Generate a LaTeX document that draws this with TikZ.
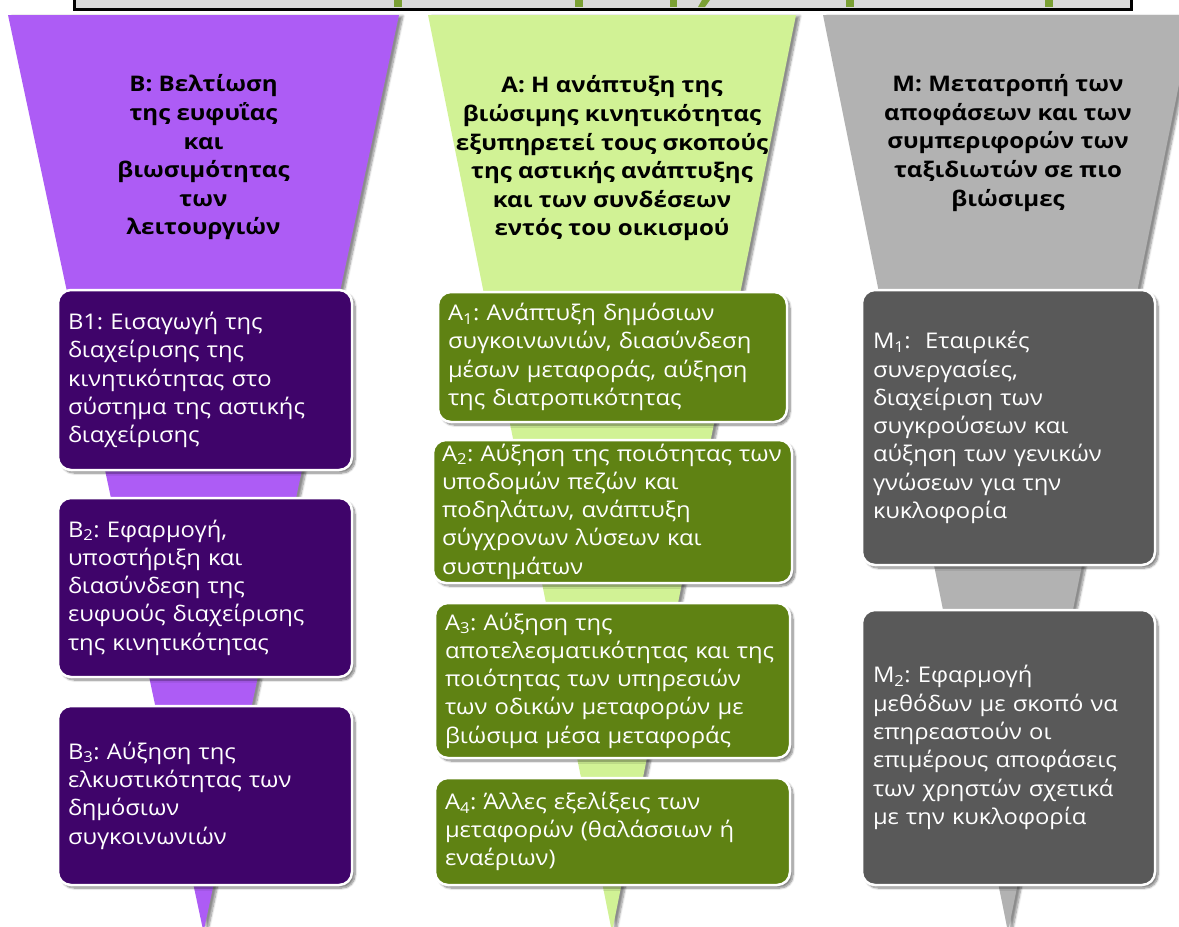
\documentclass[tikz,border=0pt]{standalone}
\usepackage{fontspec}
\setmainfont{Open Sans}[FakeStretch=1.1]
\newfontfamily\headfont{Open Sans}[FakeStretch=1.12]
\usetikzlibrary{shadows.blur}

\definecolor{violetfunnel}{RGB}{173,92,245}
\definecolor{violetbox}{RGB}{63,4,106}
\definecolor{greenfunnel}{RGB}{209,242,149}
\definecolor{greenbox}{RGB}{95,130,19}
\definecolor{greyfunnel}{RGB}{178,178,178}
\definecolor{greybox}{RGB}{89,89,89}
\definecolor{bannerfill}{RGB}{217,217,217}
\definecolor{bannerink}{RGB}{122,160,52}

\newcommand\lowidx[1]{\textsubscript{#1}}
\frenchspacing

\begin{document}
\begin{tikzpicture}[x=1pt,y=-1pt,
  funnel/.style={fill=#1,
    blur shadow={shadow xshift=4pt, shadow yshift=-1pt, shadow opacity=45, shadow blur steps=8}},
  heading/.style={align=center, inner sep=0pt, text=black,
    font=\headfont\bfseries\fontsize{21.5}{28.6}\selectfont},
  goalbox/.style={rectangle, rounded corners=13pt, draw=white, line width=2.5pt,
    fill=#1, text=white, align=left, inner sep=0pt,
    font=\fontsize{21.6}{28.3}\selectfont,
    blur shadow={shadow xshift=3pt, shadow yshift=-3pt, shadow opacity=50, shadow blur steps=8}},
  inkbar/.style={fill=bannerink, draw=none}
]
\useasboundingbox (0,0) rectangle (1179,927);
\clip (0,0) rectangle (1179,927);

% banner strip along the top edge
\draw[fill=bannerfill, draw=black, line width=3pt] (74.5,-20) rectangle (1131.5,9.5);
\fill[inkbar] (394,0) rectangle (401.5,7);
\fill[inkbar] (575,0) rectangle (583,7);
\fill[inkbar] (670,0) rectangle (677,7);
\fill[inkbar] (702,0) -- (710,0) -- (705,7) -- (698,7) -- cycle;
\fill[inkbar] (846,0) rectangle (854,7);
\fill[inkbar] (1045,0) rectangle (1053,7);

% three funnels
\path[funnel=violetfunnel] (8,15) -- (399,15) -- (203.5,932) -- cycle;
\path[funnel=greenfunnel] (428,15) -- (796,15) -- (612,932) -- cycle;
\path[funnel=greyfunnel] (823,15) -- (1193,15) -- (1008,932) -- cycle;

% headings
\node[heading] (hb) at (203.5,157.5) {Β: Βελτίωση\\της ευφυΐας\\και\\βιωσιμότητας\\των\\λειτουργιών};
\node[heading] (ha) at (612,158.5) {Α: Η ανάπτυξη της\\βιώσιμης κινητικότητας\\εξυπηρετεί τους σκοπούς\\της αστικής ανάπτυξης\\και των συνδέσεων\\εντός του οικισμού};
\node[heading] (hm) at (1008,143) {Μ: Μετατροπή των\\αποφάσεων και των\\συμπεριφορών των\\ταξιδιωτών σε πιο\\βιώσιμες};

% column B
\node[goalbox=violetbox, minimum width=294pt, minimum height=180pt, text width=274pt] (b1) at (205,380)
  {Β1: Εισαγωγή της\\διαχείρισης της\\κινητικότητας στο\\σύστημα της αστικής\\διαχείρισης};
\node[goalbox=violetbox, minimum width=294pt, minimum height=179pt, text width=274pt] (b2) at (205,587.5)
  {Β\lowidx{2}: Εφαρμογή,\\υποστήριξη και\\διασύνδεση της\\ευφυούς διαχείρισης\\της κινητικότητας};
\node[goalbox=violetbox, minimum width=294pt, minimum height=179pt, text width=274pt] (b3) at (205,795.5)
  {Β\lowidx{3}: Αύξηση της\\ελκυστικότητας των\\δημόσιων\\συγκοινωνιών};

% column A
\node[goalbox=greenbox, minimum width=349pt, minimum height=130pt, text width=329pt] (a1) at (612.5,357)
  {Α\lowidx{1}: Ανάπτυξη δημόσιων\\συγκοινωνιών, διασύνδεση\\μέσων μεταφοράς, αύξηση\\της διατροπικότητας};
\node[goalbox=greenbox, minimum width=359pt, minimum height=143pt, text width=341pt] (a2) at (612.5,511.5)
  {Α\lowidx{2}: Αύξηση της ποιότητας των\\υποδομών πεζών και\\ποδηλάτων, ανάπτυξη\\σύγχρονων λύσεων και\\συστημάτων};
\node[goalbox=greenbox, minimum width=355pt, minimum height=155pt, text width=335pt] (a3) at (612.5,680.5)
  {Α\lowidx{3}: Αύξηση της\\αποτελεσματικότητας και της\\ποιότητας των υπηρεσιών\\των οδικών μεταφορών με\\βιώσιμα μέσα μεταφοράς};
\node[goalbox=greenbox, minimum width=355pt, minimum height=107pt, text width=335pt] (a4) at (612.5,831.5)
  {Α\lowidx{4}: Άλλες εξελίξεις των\\μεταφορών (θαλάσσιων ή\\εναέριων)};

% column M
\node[goalbox=greybox, minimum width=293pt, minimum height=275pt, text width=271pt] (m1) at (1008.5,427.5)
  {Μ\lowidx{1}:\ \ Εταιρικές\\συνεργασίες,\\διαχείριση των\\συγκρούσεων και\\αύξηση των γενικών\\γνώσεων για την\\κυκλοφορία};
\node[goalbox=greybox, minimum width=293pt, minimum height=275pt, text width=271pt] (m2) at (1008.5,747.5)
  {Μ\lowidx{2}: Εφαρμογή\\μεθόδων με σκοπό να\\επηρεαστούν οι\\επιμέρους αποφάσεις\\των χρηστών σχετικά\\με την κυκλοφορία};
\end{tikzpicture}
\end{document}
